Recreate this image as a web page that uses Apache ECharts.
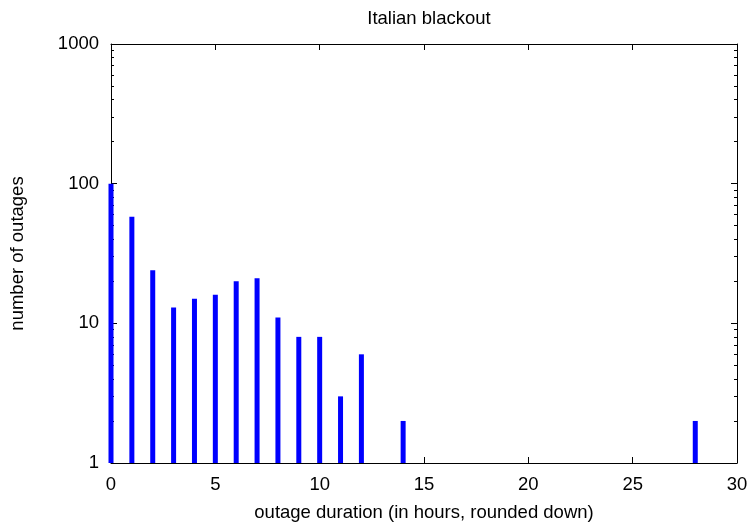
<!DOCTYPE html>
<html>
<head>
<meta charset="utf-8">
<script src="https://cdn.jsdelivr.net/npm/echarts@6/dist/echarts.min.js"></script>
<style>
html,body{margin:0;padding:0;background:#fff;}
#chart{width:751px;height:527px;}
</style>
</head>
<body>
<div id="chart"></div>
<script>
// Data
const durations = [0, 1, 2, 3, 4, 5, 6, 7, 8, 9, 10, 11, 12, 14, 28];
const outages   = [100, 58, 24, 13, 15, 16, 20, 21, 11, 8, 8, 3, 6, 2, 2];
const yMajorTicks = [1, 10, 100, 1000];
const yMinorTicks = [2,3,4,5,6,7,8,9,20,30,40,50,60,70,80,90,200,300,400,500,600,700,800,900];
const titleText = 'Italian blackout';
const xName = 'outage duration (in hours, rounded down)';
const yName = 'number of outages';

const FONT = 'Liberation Sans, Arial, Helvetica, sans-serif';
const FS = 18.5;
const chart = echarts.init(document.getElementById('chart'), null, {renderer: 'canvas'});

const lineStyle = {color: '#000', width: 1};
function yAx(position, show, tickValues, len) {
  return {
    type: 'log', logBase: 10, min: 1, max: 1000, position: position,
    axisLine: {show: show, lineStyle: lineStyle},
    axisTick: {show: true, inside: true, length: len, customValues: tickValues, lineStyle: lineStyle},
    axisLabel: {show: false},
    splitLine: {show: false}
  };
}

const option = {
  animation: false,
  backgroundColor: '#fff',
  title: {
    text: titleText, left: 424, top: 4, textAlign: 'center',
    textStyle: {fontFamily: FONT, fontSize: FS, fontWeight: 'normal', color: '#000'}
  },
  grid: {left: 111, right: 14, top: 44, bottom: 60, containLabel: false},
  xAxis: [{
    type: 'value', min: 0, max: 30, interval: 5, position: 'bottom',
    name: xName, nameLocation: 'middle', nameGap: 40,
    nameTextStyle: {fontFamily: FONT, fontSize: FS, color: '#000'},
    axisLine: {show: true, onZero: false, lineStyle: lineStyle},
    axisTick: {show: true, inside: true, length: 6, lineStyle: lineStyle},
    axisLabel: {show: true, margin: 12, fontFamily: FONT, fontSize: FS, color: '#000'},
    splitLine: {show: false}
  }, {
    type: 'value', min: 0, max: 30, interval: 5, position: 'top',
    axisLine: {show: true, onZero: false, lineStyle: lineStyle},
    axisTick: {show: true, inside: true, length: 6, lineStyle: lineStyle},
    axisLabel: {show: false},
    splitLine: {show: false}
  }],
  yAxis: [{
    type: 'log', logBase: 10, min: 1, max: 1000, position: 'left',
    name: yName, nameLocation: 'middle', nameGap: 84, nameRotate: 90,
    nameTextStyle: {fontFamily: FONT, fontSize: FS, color: '#000'},
    axisLine: {show: true, lineStyle: lineStyle},
    axisTick: {show: true, inside: true, length: 6, customValues: yMajorTicks, lineStyle: lineStyle},
    axisLabel: {show: true, margin: 12, customValues: yMajorTicks,
      formatter: function (v) { return String(Math.round(v)); },
      fontFamily: FONT, fontSize: FS, color: '#000'},
    splitLine: {show: false}
  },
    yAx('left', false, yMinorTicks, 3),
    yAx('right', true, yMajorTicks, 6),
    yAx('right', false, yMinorTicks, 3)
  ],
  series: [{
    type: 'bar',
    xAxisIndex: 0, yAxisIndex: 0,
    barWidth: 5,
    clip: false,
    itemStyle: {color: '#0000ff'},
    data: durations.map((d, i) => [d, outages[i]])
  }]
};
chart.setOption(option);
</script>
</body>
</html>
